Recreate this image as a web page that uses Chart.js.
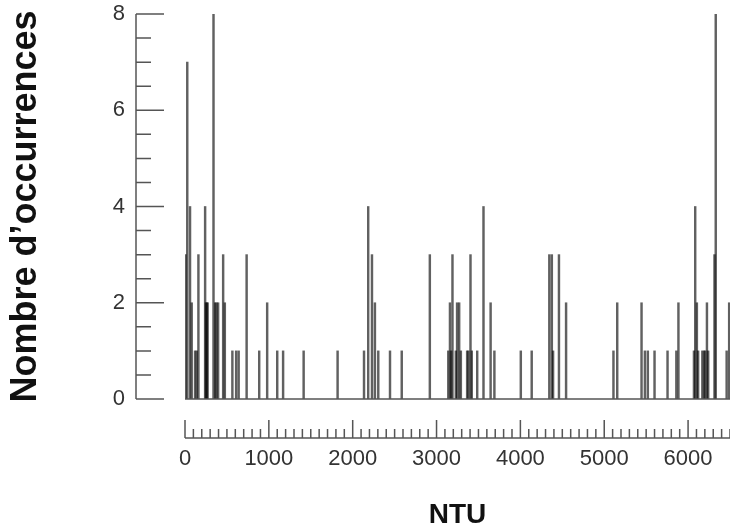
<!DOCTYPE html>
<html>
<head>
<meta charset="utf-8">
<script src="https://cdn.jsdelivr.net/npm/chart.js@4/dist/chart.umd.min.js"></script>
<style>
  html, body { margin: 0; padding: 0; background: #fff; }
  #wrap { width: 730px; height: 532px; }
</style>
</head>
<body>
<div id="wrap"><canvas id="chart" width="730" height="532"></canvas></div>
<script>
// NTU bins (centre of each spike) and number of occurrences
const ntuBins = [
    5, 27, 60, 80, 120, 140, 160, 240, 250, 260, 270, 340, 360, 375, 395, 455, 475,
    565, 610, 640, 735, 885, 980, 1100, 1170, 1415, 1820,
    2135, 2185, 2230, 2265, 2305, 2445, 2585, 2920,
    3140, 3160, 3175, 3190, 3230, 3245, 3270, 3290, 3365, 3380, 3405, 3420, 3485, 3560, 3645, 3690,
    4005, 4135, 4345, 4375, 4390, 4460, 4545, 5110, 5155,
    5445, 5485, 5520, 5600, 5755, 5860, 5885,
    6070, 6085, 6105, 6120, 6170, 6190, 6205, 6225, 6240, 6315, 6330, 6460, 6490
];
const counts = [
    3, 7, 4, 2, 1, 1, 3, 4, 2, 2, 2, 8, 2, 2, 2, 3, 2,
    1, 1, 1, 3, 1, 2, 1, 1, 1, 1,
    1, 4, 3, 2, 1, 1, 1, 3,
    1, 2, 1, 3, 1, 2, 2, 1, 1, 1, 3, 1, 1, 4, 2, 1,
    1, 1, 3, 3, 1, 3, 2, 1, 2,
    2, 1, 1, 1, 1, 1, 2,
    1, 4, 2, 1, 1, 1, 1, 2, 1, 3, 8, 1, 2
];
const yTickStep = 0.5;   // minor ticks, labels every 2
const xTickStep = 100;   // minor ticks, labels every 1000

// layout constants for the detached axes
const Y_AXIS_X = 136;
const X_AXIS_GAP = 39;
const INK = '#555';

const axisDecor = {
    id: 'axisDecor',
    afterDraw(chart) {
        const { ctx, chartArea, scales: { x, y } } = chart;
        const y0 = y.getPixelForValue(0);
        ctx.save();
        ctx.strokeStyle = INK;
        ctx.lineWidth = 1.5;
        ctx.beginPath();
        // y axis line with inward ticks
        ctx.moveTo(Y_AXIS_X, y.getPixelForValue(y.max));
        ctx.lineTo(Y_AXIS_X, y0);
        y.ticks.forEach(t => {
            const py = y.getPixelForValue(t.value);
            const len = t.value % 2 === 0 ? 28 : 15;
            ctx.moveTo(Y_AXIS_X, py);
            ctx.lineTo(Y_AXIS_X + len, py);
        });
        // histogram baseline
        ctx.moveTo(chartArea.left, y0);
        ctx.lineTo(chartArea.right, y0);
        // x axis below, ticks pointing up
        const ax = chartArea.bottom + X_AXIS_GAP;
        ctx.moveTo(chartArea.left, ax);
        ctx.lineTo(chartArea.right, ax);
        x.ticks.forEach(t => {
            const px = x.getPixelForValue(t.value);
            const len = t.value % 1000 === 0 ? 18 : 9;
            ctx.moveTo(px, ax);
            ctx.lineTo(px, ax - len);
        });
        ctx.stroke();
        ctx.restore();
    }
};

new Chart(document.getElementById('chart'), {
    type: 'bar',
    data: {
        datasets: [{
            data: ntuBins.map((v, i) => ({ x: v, y: counts[i] })),
            backgroundColor: 'rgba(0, 0, 0, 0.62)',
            borderWidth: 0,
            barThickness: 1.8
        }]
    },
    options: {
        responsive: false,
        animation: false,
        layout: { padding: { top: 14, left: 0, right: 0, bottom: 0 } },
        plugins: { legend: { display: false }, tooltip: { enabled: false } },
        scales: {
            x: {
                type: 'linear',
                offset: false,
                min: 0,
                max: 6500,
                grid: { display: false, drawTicks: false },
                border: { display: false },
                ticks: {
                    stepSize: xTickStep,
                    autoSkip: false,
                    maxRotation: 0,
                    padding: 47,
                    color: '#333',
                    font: { family: "'Liberation Sans', Arial, sans-serif", size: 22 },
                    callback: v => (v % 1000 === 0 ? v : '')
                },
                title: {
                    display: true,
                    text: 'NTU',
                    color: '#111',
                    padding: { top: 0, bottom: 0 },
                    font: { family: "'Liberation Sans', Arial, sans-serif", size: 28, weight: 'bold', lineHeight: 1.2 }
                },
                afterFit: s => {
                    s.height = 133;
                    s.paddingLeft = 0;
                    s.paddingRight = 0;
                }
            },
            y: {
                min: 0,
                max: 8,
                grid: { display: false, drawTicks: false },
                border: { display: false },
                ticks: {
                    stepSize: yTickStep,
                    autoSkip: false,
                    padding: 60,
                    color: '#333',
                    font: { family: "'Liberation Sans', Arial, sans-serif", size: 22 },
                    callback: v => (v % 2 === 0 ? v : '')
                },
                title: {
                    display: true,
                    text: 'Nombre d\u2019occurrences',
                    color: '#111',
                    padding: { top: 4, bottom: 0 },
                    font: { family: "'Liberation Sans', Arial, sans-serif", size: 36, weight: 'bold', lineHeight: 1.2 }
                },
                afterFit: s => {
                    s.width = 185;
                    s.paddingTop = 0;
                    s.paddingBottom = 0;
                }
            }
        }
    },
    plugins: [axisDecor]
});
</script>
</body>
</html>
